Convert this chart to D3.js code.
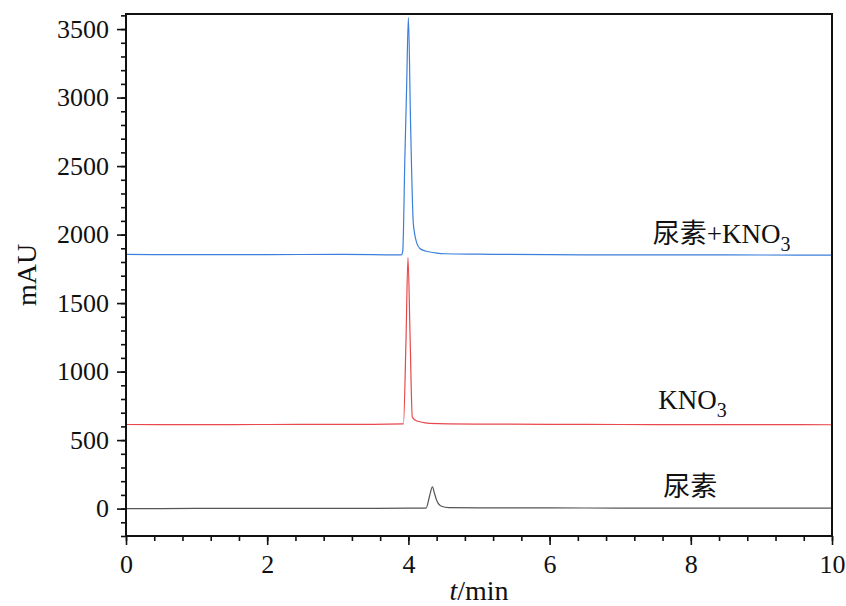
<!DOCTYPE html>
<html>
<head>
<meta charset="utf-8">
<script src="https://cdn.jsdelivr.net/npm/d3@7"></script>
<style>
  body { margin: 0; background: #fff; }
  svg { display: block; }
  text { font-family: "Liberation Serif", "Times New Roman", "Noto Sans CJK SC", serif; fill: #111; }
</style>
</head>
<body>
<svg width="846" height="606"></svg>
<script>
// traces (t in min, signal in mAU)
const mixT = [0, 1, 2, 3, 3.5, 3.9, 3.92, 3.95, 3.975, 4.0, 4.03, 4.07, 4.12, 4.16, 4.24, 4.38, 4.52, 5, 6, 7, 8, 9, 10]
const mixV = [1855, 1853, 1854, 1855, 1853, 1852, 1880, 2560, 3080, 3585, 2830, 2080, 1936, 1900, 1880, 1867, 1860, 1857, 1853, 1852, 1852, 1851, 1850]

const kno3T = [0, 1, 2, 3, 3.5, 3.93, 3.966, 3.994, 4.025, 4.055, 4.12, 4.2, 4.3, 5, 6, 7, 8, 9, 10]
const kno3V = [614, 613, 614, 615, 615, 618, 1230, 1832, 1230, 668, 639, 630, 622, 617, 615, 614, 613, 613, 612]

const ureaT = [0, 1, 2, 3, 4, 4.25, 4.3, 4.34, 4.37, 4.4, 4.47, 4.57, 5, 6, 7, 8, 9, 10]
const ureaV = [0, 1, 2, 2, 3, 4, 92, 158, 110, 61, 17, 7, 5, 5, 4, 4, 4, 4]

const xTicks = [0, 2, 4, 6, 8, 10]
const yTicks = [0, 500, 1000, 1500, 2000, 2500, 3000, 3500]

const series = [
  { name: 'mix', t: mixT, v: mixV, color: '#3b7fdc' },
  { name: 'kno3', t: kno3T, v: kno3V, color: '#e8484c' },
  { name: 'urea', t: ureaT, v: ureaV, color: '#555555' }
]

const svg = d3.select('svg')
const width = +svg.attr('width')
const height = +svg.attr('height')
const margin = { top: 14, right: 14, bottom: 70, left: 126 }
const w = width - margin.left - margin.right
const h = height - margin.top - margin.bottom

const g = svg.append('g')
  .attr('transform', `translate(${margin.left}, ${margin.top})`)

const x = d3.scaleLinear().domain([0, 10]).range([0, w])
const y = d3.scaleLinear().domain([-200, 3610]).range([h, 0])

const line = d3.line()
  .x(d => x(d[0]))
  .y(d => y(d[1]))
  .curve(d3.curveMonotoneX)

series.forEach(s => {
  g.append('path')
    .datum(d3.zip(s.t, s.v))
    .attr('fill', 'none')
    .attr('stroke', s.color)
    .attr('stroke-width', 1.2)
    .attr('d', line)
})

// minor ticks
const xMinor = g.append('g')
  .attr('transform', `translate(0, ${h})`)
  .call(d3.axisBottom(x).tickValues(d3.range(0, 10.01, 0.4)).tickSize(5).tickFormat(''))
const yMinor = g.append('g')
  .call(d3.axisLeft(y).tickValues(d3.range(-200, 3601, 100)).tickSize(5).tickFormat(''))

const xAxis = g.append('g')
  .attr('transform', `translate(0, ${h})`)
  .call(d3.axisBottom(x).tickValues(xTicks).tickSize(9).tickPadding(8).tickFormat(d3.format('d')))
const yAxis = g.append('g')
  .call(d3.axisLeft(y).tickValues(yTicks).tickSize(9).tickPadding(8).tickFormat(d3.format('d')))

;[xMinor, yMinor, xAxis, yAxis].forEach(a => {
  a.select('.domain').remove()
  a.selectAll('line').attr('stroke', '#111').attr('stroke-width', 1.6)
  a.selectAll('text').style('font-size', '26px').attr('fill', '#111')
})
xAxis.selectAll('text').attr('dy', '0.75em')

g.append('rect')
  .attr('width', w)
  .attr('height', h)
  .attr('fill', 'none')
  .attr('stroke', '#111')
  .attr('stroke-width', 2)

// axis titles
const xt = svg.append('text')
  .attr('x', margin.left + x(5))
  .attr('y', 600)
  .attr('text-anchor', 'middle')
  .style('font-size', '28px')
xt.append('tspan').style('font-style', 'italic').text('t')
xt.append('tspan').text('/min')

svg.append('text')
  .attr('transform', `translate(36, ${margin.top + h / 2}) rotate(-90)`)
  .attr('text-anchor', 'middle')
  .style('font-size', '28px')
  .text('mAU')

// trace labels
const labels = [
  { main: '尿素+KNO', sub: '3', t: 7.46, v: 1936 },
  { main: 'KNO', sub: '3', t: 7.54, v: 725 },
  { main: '尿素', sub: '', t: 7.61, v: 90 }
]
labels.forEach(l => {
  const txt = g.append('text')
    .attr('x', x(l.t))
    .attr('y', y(l.v))
    .style('font-size', '27px')
  txt.append('tspan').text(l.main)
  if (l.sub) {
    txt.append('tspan').attr('dy', 8).style('font-size', '20px').text(l.sub)
  }
})
</script>
</body>
</html>
